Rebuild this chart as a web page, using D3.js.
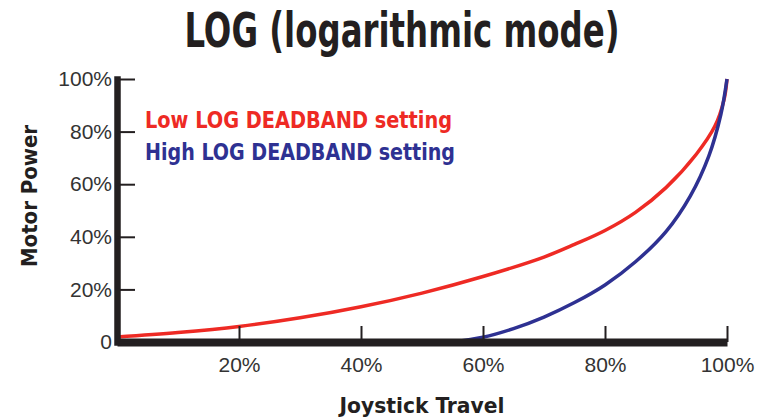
<!DOCTYPE html>
<html>
<head>
<meta charset="utf-8">
<script src="https://cdn.jsdelivr.net/npm/d3@7"></script>
<style>
  body { margin: 0; background: #fff; }
  .cond { font-family: "Liberation Sans Narrow", "DejaVu Sans Condensed", "Liberation Sans", Arial, sans-serif; font-weight: bold; font-stretch: condensed; }
  .tick text { font-family: "Liberation Sans", Arial, sans-serif; font-size: 21px; fill: #333; }
</style>
</head>
<body>
<div id="chart"></div>
<script>
var totWidth = 764;
var totHeight = 419;

//-- Data (percent of joystick travel -> percent of motor power)
var lowTravel = [0, 10, 20, 30, 40, 50, 60, 70, 75, 80, 85, 90, 95, 98, 99.5, 100];
var lowPower  = [1.9, 3.6, 5.9, 9.2, 13.4, 18.6, 24.9, 32.3, 37.1, 42.4, 49.3, 58.7, 71.5, 82, 92, 100];
var highTravel = [55, 60, 65, 70, 75, 80, 85, 90, 94, 97, 99, 100];
var highPower  = [0, 1.8, 5.1, 9.5, 15, 21.7, 30.5, 42, 55.6, 70.6, 86.6, 100];

var xTicks = [20, 40, 60, 80, 100];
var xTickLabels = ["20%", "40%", "60%", "80%", "100%"];
var yTicks = [0, 20, 40, 60, 80, 100];
var yTickLabels = ["0", "20%", "40%", "60%", "80%", "100%"];

var seriesNames = ["Low LOG DEADBAND setting", "High LOG DEADBAND setting"];
var seriesColors = ["#ee2a24", "#2e3192"];

var axisColor = "#231f20";

//-- Svg
var svg = d3.select("#chart")
  .append("svg")
    .attr("width", totWidth)
    .attr("height", totHeight);

//-- Scales
var x = d3.scaleLinear().domain([0, 100]).range([117, 727]);
var y = d3.scaleLinear().domain([0, 100]).range([342, 79]);

//-- Curves
var line = d3.line()
  .x(function(d) { return x(d[0]); })
  .y(function(d) { return y(d[1]); })
  .curve(d3.curveCatmullRom.alpha(0.5));

var series = [
  d3.zip(lowTravel, lowPower),
  d3.zip(highTravel, highPower)
];

svg.selectAll("path.curve")
  .data(series)
  .enter()
  .append("path")
    .attr("class", "curve")
    .attr("d", line)
    .attr("fill", "none")
    .attr("stroke", function(d, i) { return seriesColors[i]; })
    .attr("stroke-width", 3.5);

//-- x axis (ticks point up)
var xAxis = d3.axisBottom(x)
  .tickValues(xTicks)
  .tickSize(-16)
  .tickSizeOuter(0)
  .tickPadding(15)
  .tickFormat(function(d, i) { return xTickLabels[i]; });

var gx = svg.append("g")
  .attr("transform", "translate(0," + y(0) + ")")
  .call(xAxis);
gx.select(".domain").attr("stroke", axisColor).attr("stroke-width", 8);
gx.selectAll(".tick line").attr("stroke", axisColor).attr("stroke-width", 2);

//-- y axis (ticks point right, labels left)
var yAxis = d3.axisLeft(y)
  .tickValues(yTicks)
  .tickSize(-18)
  .tickSizeOuter(0)
  .tickPadding(5)
  .tickFormat(function(d, i) { return yTickLabels[i]; });

var gy = svg.append("g")
  .attr("transform", "translate(" + x(0) + ",0)")
  .call(yAxis);
gy.select(".domain").attr("stroke", axisColor).attr("stroke-width", 6.5).attr("stroke-linecap", "square");
gy.selectAll(".tick line").attr("stroke", axisColor).attr("stroke-width", 2);

//-- Title
svg.append("text")
  .attr("class", "cond")
  .attr("x", 402)
  .attr("y", 47)
  .attr("text-anchor", "middle")
  .attr("textLength", 435)
  .attr("lengthAdjust", "spacingAndGlyphs")
  .style("font-size", "48px")
  .style("fill", axisColor)
  .text("LOG (logarithmic mode)");

//-- Axis titles
svg.append("text")
  .attr("class", "cond")
  .attr("transform", "translate(37,196) rotate(-90)")
  .attr("text-anchor", "middle")
  .attr("textLength", 142)
  .attr("lengthAdjust", "spacingAndGlyphs")
  .style("font-size", "22px")
  .style("fill", axisColor)
  .text("Motor Power");

svg.append("text")
  .attr("class", "cond")
  .attr("x", 422)
  .attr("y", 413)
  .attr("text-anchor", "middle")
  .attr("textLength", 165)
  .attr("lengthAdjust", "spacingAndGlyphs")
  .style("font-size", "22px")
  .style("fill", axisColor)
  .text("Joystick Travel");

//-- Legend
var legendLen = [307, 310];
svg.selectAll("text.legend")
  .data(seriesNames)
  .enter()
  .append("text")
    .attr("class", "legend cond")
    .attr("x", 145)
    .attr("y", function(d, i) { return 128 + i * 32; })
    .attr("textLength", function(d, i) { return legendLen[i]; })
    .attr("lengthAdjust", "spacingAndGlyphs")
    .style("font-size", "23px")
    .style("fill", function(d, i) { return seriesColors[i]; })
    .text(function(d) { return d; });
</script>
</body>
</html>
